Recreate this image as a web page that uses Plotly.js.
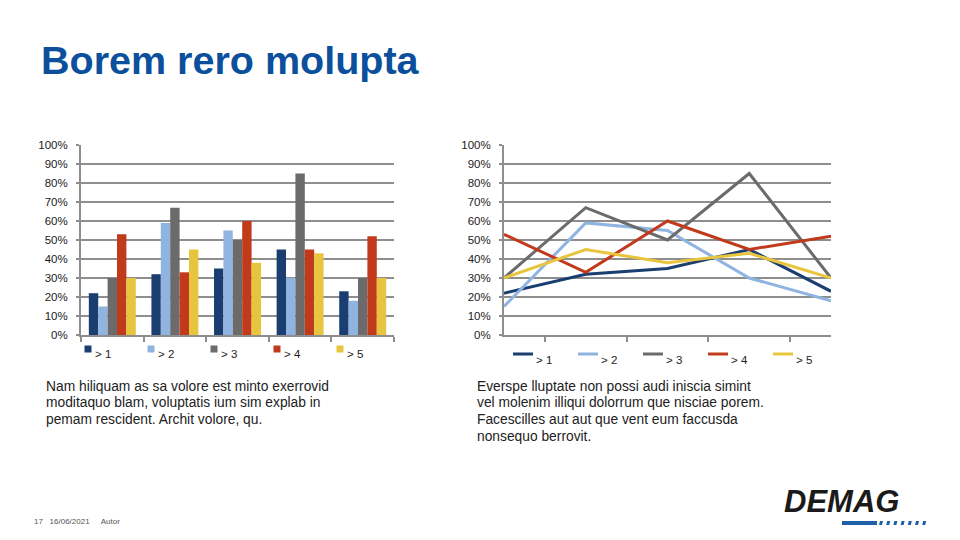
<!DOCTYPE html>
<html>
<head>
<meta charset="utf-8">
<script src="https://cdn.plot.ly/plotly-3.0.1.min.js"></script>
<style>html,body{margin:0;padding:0;background:#fff;}#chart{width:960px;height:540px;}</style>
</head>
<body>
<div id="chart"></div>
<script>
// Data
const categories = ['A', 'B', 'C', 'D', 'E'];
const seriesNames = ['> 1', '> 2', '> 3', '> 4', '> 5'];
const s1 = [22, 32, 35, 45, 23];
const s2 = [15, 59, 55, 30, 18];
const s3 = [30, 67, 50, 85, 30];
const s4 = [53, 33, 60, 45, 52];
const s5 = [30, 45, 38, 43, 30];
const seriesValues = [s1, s2, s3, s4, s5];
const colors = ['#1b3e70', '#8fb4e0', '#6b6b6b', '#c23a1c', '#e8c53e'];
const leftLines = ['Nam hiliquam as sa volore est minto exerrovid', 'moditaquo blam, voluptatis ium sim explab in', 'pemam rescident. Archit volore, qu.'];
const rightLines = ['Everspe lluptate non possi audi iniscia simint', 'vel molenim illiqui dolorrum que nisciae porem.', 'Facescilles aut aut que vent eum faccusda', 'nonsequo berrovit.'];

const FONT = 'Liberation Sans, Arial, sans-serif';
const traces = [];
seriesValues.forEach((vals, i) => {
  traces.push({type: 'bar', x: categories, y: vals, name: seriesNames[i], marker: {color: colors[i]},
    xaxis: 'x', yaxis: 'y', hoverinfo: 'y'});
});
seriesValues.forEach((vals, i) => {
  traces.push({type: 'scatter', mode: 'lines', x: categories, y: vals, name: seriesNames[i],
    line: {color: colors[i], width: 3}, xaxis: 'x2', yaxis: 'y2'});
});

const W = 960, H = 540;
const px = v => v / W, py = v => 1 - v / H;
const yCommon = {range: [0, 100], dtick: 10, ticksuffix: '%', showgrid: true, gridcolor: '#8e8e8e', gridwidth: 2,
  zeroline: false, showline: true, linecolor: '#8e8e8e', linewidth: 2, ticks: 'outside', ticklen: 3, tickwidth: 2, tickcolor: '#8e8e8e',
  ticklabelstandoff: 6, tickfont: {family: FONT, size: 11.5, color: '#222'}, fixedrange: true};
const xCommon = {showticklabels: false, showline: true, linecolor: '#8e8e8e', linewidth: 2, ticks: 'outside',
  ticklen: 5, tickcolor: '#8e8e8e', tickwidth: 2, tickson: 'boundaries', showgrid: false, fixedrange: true};

const annotations = [];
const shapes = [];
leftLines.forEach((t, i) => annotations.push({text: t, xref: 'paper', yref: 'paper', x: px(44), y: py(386 + i * 16.7),
  xanchor: 'left', yanchor: 'middle', showarrow: false, font: {family: FONT, size: 13.8, color: '#222'}}));
rightLines.forEach((t, i) => annotations.push({text: t, xref: 'paper', yref: 'paper', x: px(475), y: py(386 + i * 16.7),
  xanchor: 'left', yanchor: 'middle', showarrow: false, font: {family: FONT, size: 13.8, color: '#222'}}));

// legends (drawn manually)
seriesNames.forEach((n, i) => {
  const cx = 88 + i * 63;
  shapes.push({type: 'rect', xref: 'paper', yref: 'paper', x0: px(cx - 3.5), x1: px(cx + 3.5), y0: py(352.5), y1: py(345.5),
    fillcolor: colors[i], line: {width: 0}});
  annotations.push({text: n, xref: 'paper', yref: 'paper', x: px(cx + 5), y: py(354), xanchor: 'left', yanchor: 'middle',
    showarrow: false, font: {family: FONT, size: 11.5, color: '#222'}});
  const lx = 513 + i * 65;
  shapes.push({type: 'line', xref: 'paper', yref: 'paper', x0: px(lx), x1: px(lx + 20), y0: py(354), y1: py(354),
    line: {color: colors[i], width: 3}});
  annotations.push({text: n, xref: 'paper', yref: 'paper', x: px(lx + 21), y: py(359.5), xanchor: 'left', yanchor: 'middle',
    showarrow: false, font: {family: FONT, size: 11.5, color: '#222'}});
});

annotations.push({text: '17&nbsp;&nbsp;&nbsp;16/06/2021&nbsp;&nbsp;&nbsp;&nbsp;&nbsp;Autor', xref: 'paper', yref: 'paper', x: px(32), y: py(521), xanchor: 'left', yanchor: 'middle',
  showarrow: false, font: {family: FONT, size: 8, color: '#555'}});
annotations.push({text: '<b><i>DEMAG</i></b>', xref: 'paper', yref: 'paper', x: px(782), y: py(501), xanchor: 'left', yanchor: 'middle',
  showarrow: false, font: {family: FONT, size: 31, color: '#1a1a1a'}});
shapes.push({type: 'rect', xref: 'paper', yref: 'paper', x0: px(842), x1: px(877), y0: py(525), y1: py(521), fillcolor: '#1f5fa8', line: {width: 0}});
for (let k = 0; k < 7; k++) {
  const x0 = 879 + k * 7.2;
  shapes.push({type: 'path', xref: 'paper', yref: 'paper',
    path: `M ${px(x0 + 1)} ${py(521)} L ${px(x0 + 4)} ${py(521)} L ${px(x0 + 3)} ${py(525)} L ${px(x0)} ${py(525)} Z`,
    fillcolor: '#1f5fa8', line: {width: 0}});
}

const layout = {
  width: W, height: H, margin: {l: 0, r: 0, t: 0, b: 0}, paper_bgcolor: '#fff', plot_bgcolor: '#fff',
  font: {family: FONT, color: '#222'}, showlegend: false,
  title: {text: '<b>Borem rero molupta</b>', x: px(41), xanchor: 'left', xref: 'paper', y: py(60), yanchor: 'middle', yref: 'paper',
    font: {family: FONT, size: 39.5, color: '#0b4f9d'}},
  barmode: 'group', bargap: 0.25, bargroupgap: 0,
  xaxis: Object.assign({}, xCommon, {domain: [px(81), px(394)], anchor: 'y'}),
  yaxis: Object.assign({}, yCommon, {domain: [py(335), py(145)], anchor: 'x'}),
  xaxis2: Object.assign({}, xCommon, {domain: [px(504), px(831)], anchor: 'y2'}),
  yaxis2: Object.assign({}, yCommon, {domain: [py(335), py(145)], anchor: 'x2'}),
  annotations: annotations, shapes: shapes
};
Plotly.newPlot('chart', traces, layout, {displayModeBar: false, staticPlot: true});
</script>
</body>
</html>
